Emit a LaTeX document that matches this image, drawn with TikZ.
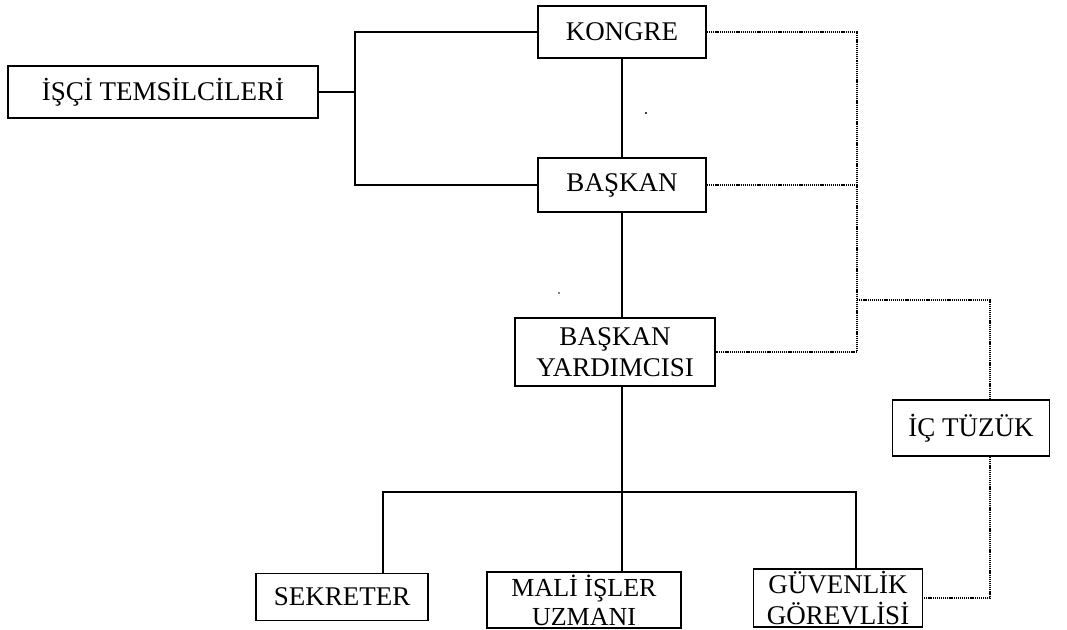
\documentclass[tikz,border=0pt]{standalone}
\usepackage{fontspec}
\setmainfont{Liberation Serif}
\begin{document}
\begin{tikzpicture}[x=1pt,y=-1pt,
  box/.style={draw, line width=1.8pt, inner sep=0pt, align=center,
              font=\fontsize{27}{31}\selectfont},
  link/.style={line width=1.8pt},
  dotlink/.style={line width=1.8pt, dash pattern=on 1.2pt off 0.9pt}]
\useasboundingbox (0,0) rectangle (1067,629);

% boxes
\node[box, minimum width=168pt, minimum height=52pt] (kongre)   at (622,32)  {KONGRE};
\node[box, minimum width=310pt, minimum height=52pt] (isci)     at (163,92)  {İŞÇİ TEMSİLCİLERİ};
\node[box, minimum width=168pt, minimum height=54pt] (baskan)   at (622,185) {BAŞKAN};
\node[box, minimum width=200pt, minimum height=68pt] (yard)     at (615,352) {BAŞKAN\\YARDIMCISI};
\node[box, minimum width=157pt, minimum height=56pt] (ictuzuk)  at (971,428) {İÇ TÜZÜK};
\node[box, minimum width=172pt, minimum height=47pt] (sekreter) at (342,597) {SEKRETER};
\node[box, minimum width=194pt, minimum height=56pt, font=\fontsize{26}{29}\selectfont]
  (mali) at (584,600) {MALİ İŞLER\\UZMANI};
\node[box, minimum width=169pt, minimum height=58pt] (guvenlik) at (838,598) {GÜVENLİK\\GÖREVLİSİ};

% guide coordinates for the connector routes
\coordinate (sj)  at (355,0);
\coordinate (dj)  at (857,0);
\coordinate (tj)  at (857,300);
\coordinate (tx)  at (990,0);
\coordinate (sx)  at (383,0);
\coordinate (gx)  at (856,0);
\coordinate (bus) at (0,492);

% solid links
\draw[link] (isci.east) -- (isci.east -| sj);
\draw[link] (kongre.west) -| (sj |- baskan.west) -- (baskan.west);
\draw[link] (kongre.south) -- (baskan.north);
\draw[link] (baskan.south) -- (baskan.south |- yard.north);
\draw[link] (baskan.south |- yard.south) -- (baskan.south |- mali.north);
\draw[link] (sx |- sekreter.north) |- (gx |- bus) -- (gx |- guvenlik.north);

% dotted links to the internal regulations
\draw[dotlink] (kongre.east) -| (dj |- yard.east) -- (yard.east);
\draw[dotlink] (baskan.east) -- (baskan.east -| dj);
\draw[dotlink] (tj) -| (tx |- ictuzuk.north);
\draw[dotlink] (tx |- ictuzuk.south) |- (guvenlik.east);

% specks
\fill (646,113) circle (1.2pt);
\fill (559,293) circle (0.9pt);
\end{tikzpicture}
\end{document}
